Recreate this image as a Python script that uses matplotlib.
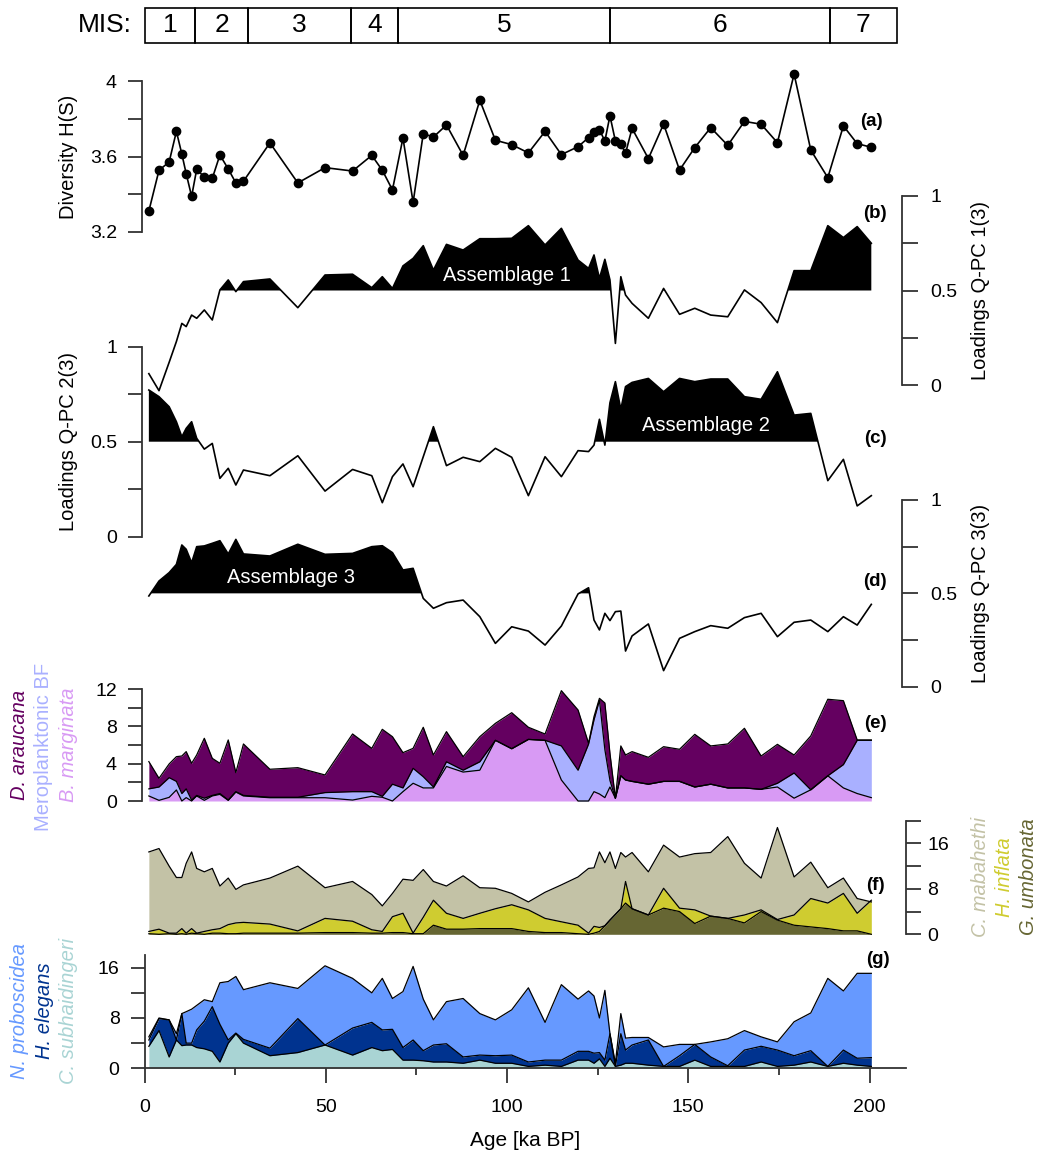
import numpy as np
import matplotlib
matplotlib.use("Agg")
import matplotlib.pyplot as plt
from matplotlib.patches import Rectangle

plt.rcParams['font.family'] = ['Liberation Sans', 'DejaVu Sans']

# ---- data (ka BP) ----
age = [1.2, 4.0, 6.8, 8.8, 10.3, 11.5, 13.0, 14.4, 16.5, 18.7, 20.8, 23.1, 25.2, 27.3, 34.6,
       42.3, 49.8, 57.4, 62.7, 65.6, 68.4, 71.3, 74.1, 76.9, 79.7, 83.3, 87.9, 92.5, 96.8, 101.3,
       105.9, 110.5, 115.0, 119.6, 122.5, 124.0, 125.5, 127.0, 128.4, 129.9, 131.4, 132.7, 134.5,
       139.0, 143.2, 147.6, 151.8, 156.2, 160.9, 165.5, 170.1, 174.6, 179.2, 183.8, 188.5, 192.8,
       196.6, 200.5]

diversity = [3.311, 3.527, 3.571, 3.733, 3.613, 3.509, 3.389, 3.532, 3.491, 3.484, 3.608, 3.534,
             3.460, 3.469, 3.672, 3.460, 3.541, 3.523, 3.606, 3.527, 3.423, 3.698, 3.357, 3.721,
             3.703, 3.767, 3.606, 3.898, 3.686, 3.663, 3.619, 3.733, 3.610, 3.652, 3.700, 3.730,
             3.742, 3.682, 3.816, 3.682, 3.668, 3.617, 3.749, 3.589, 3.772, 3.528, 3.647, 3.753,
             3.659, 3.786, 3.771, 3.673, 4.037, 3.634, 3.488, 3.762, 3.668, 3.649]

qpc1 = [0.06, -0.03, 0.12, 0.23, 0.326, 0.309, 0.37, 0.353, 0.397, 0.344, 0.503, 0.556, 0.494,
        0.547, 0.561, 0.409, 0.582, 0.586, 0.515, 0.573, 0.511, 0.63, 0.67, 0.737, 0.608, 0.744,
        0.714, 0.774, 0.774, 0.776, 0.843, 0.741, 0.829, 0.661, 0.617, 0.688, 0.564, 0.665, 0.556,
        0.22, 0.573, 0.476, 0.432, 0.353, 0.511, 0.374, 0.406, 0.37, 0.361, 0.503, 0.436, 0.33,
        0.605, 0.605, 0.843, 0.78, 0.838, 0.75]

qpc2 = [0.772, 0.737, 0.684, 0.605, 0.526, 0.57, 0.605, 0.518, 0.461, 0.491, 0.307, 0.36, 0.272,
        0.351, 0.321, 0.426, 0.24, 0.354, 0.321, 0.179, 0.316, 0.383, 0.263, 0.421, 0.579, 0.374,
        0.418, 0.395, 0.465, 0.418, 0.216, 0.421, 0.316, 0.453, 0.448, 0.482, 0.618, 0.482, 0.705,
        0.816, 0.67, 0.79, 0.812, 0.833, 0.763, 0.833, 0.816, 0.83, 0.83, 0.737, 0.723, 0.868,
        0.64, 0.649, 0.295, 0.407, 0.162, 0.216]

qpc3 = [0.486, 0.566, 0.611, 0.655, 0.759, 0.736, 0.664, 0.75, 0.754, 0.768, 0.782, 0.711, 0.789,
        0.711, 0.70, 0.763, 0.709, 0.714, 0.75, 0.755, 0.718, 0.625, 0.634, 0.473, 0.42, 0.45,
        0.464, 0.375, 0.232, 0.321, 0.298, 0.223, 0.325, 0.497, 0.53, 0.357, 0.304, 0.393, 0.354,
        0.402, 0.405, 0.191, 0.272, 0.336, 0.086, 0.259, 0.295, 0.327, 0.313, 0.37, 0.393, 0.268,
        0.345, 0.357, 0.295, 0.375, 0.33, 0.441]

# stacked percentages, read as the top of each band
marginata_top = [0.54, 0.07, 0.39, 1.18, 0.0, 0.36, 0.0, 0.54, 0.07, 0.54, 0.71, 0.07, 0.96, 0.54,
                 0.35, 0.35, 0.35, 0.1, 0.5, 0.4, 0.0, 1.0, 1.9, 1.4, 1.4, 3.7, 3.1, 3.3, 6.5, 5.6,
                 6.6, 6.5, 2.25, 0.0, 0.0, 1.0, 0.75, 0.36, 1.5, 0.3, 2.7, 2.25, 2.1, 1.8, 2.1, 2.1,
                 1.5, 1.8, 1.4, 1.4, 1.25, 1.5, 0.3, 1.2, 2.7, 1.4, 0.8, 0.36]
mero_top = [1.3, 1.5, 2.5, 2.1, 0.8, 1.3, 0.1, 0.6, 0.3, 0.6, 0.8, 0.1, 1.0, 0.6, 0.4, 0.4, 0.9,
            1.0, 1.0, 0.5, 1.8, 1.4, 3.5, 2.6, 1.5, 4.2, 3.3, 4.2, 6.5, 5.6, 6.6, 6.5, 5.9, 3.3,
            6.1, 8.7, 10.8, 5.5, 2.2, 0.3, 2.7, 2.25, 2.1, 1.8, 2.1, 2.1, 1.5, 1.8, 1.4, 1.4, 1.25,
            1.9, 3.0, 1.2, 2.7, 3.9, 6.5, 6.5]
araucana_top = [4.22, 2.43, 3.97, 4.75, 4.82, 5.29, 4.04, 4.93, 6.72, 4.57, 4.04, 6.54, 3.04, 6.11,
                3.40, 3.57, 2.79, 7.18, 5.64, 7.68, 6.89, 5.18, 5.64, 7.90, 4.93, 7.43, 4.75, 6.89,
                8.32, 9.46, 7.90, 7.18, 11.82, 9.75, 6.18, 9.04, 11.0, 10.5, 5.1, 0.29, 5.9, 4.93,
                5.29, 4.68, 5.82, 5.54, 7.14, 5.9, 6.11, 7.79, 4.82, 6.07, 4.93, 6.97, 10.9, 10.75,
                6.54, 6.54]

umbonata_top = [0.1, 0.0, 0.1, 0.0, 0.1, 0.0, 0.2, 0.1, 0.0, 0.2, 0.2, 0.1, 0.1, 0.2, 0.2, 0.2,
                0.3, 0.3, 0.2, 0.2, 0.3, 0.3, 0.1, 0.1, 1.6, 0.9, 0.9, 1.0, 1.0, 1.0, 0.5, 0.3,
                0.3, 0.1, 0.0, 0.2, 0.5, 1.5, 2.5, 3.5, 4.5, 5.5, 4.5, 3.4, 4.6, 4.0, 1.9, 3.2,
                2.8, 2.0, 4.0, 2.5, 1.6, 1.3, 1.0, 0.6, 0.6, 0.0]
inflata_top = [0.5, 0.9, 0.2, 0.2, 1.0, 0.2, 1.0, 0.2, 0.5, 0.8, 1.0, 1.7, 2.0, 2.1, 1.8, 0.6,
               2.8, 2.3, 0.8, 0.5, 3.1, 3.7, 0.2, 3.0, 6.0, 3.7, 2.8, 3.7, 4.5, 5.2, 4.3, 2.8,
               2.2, 1.6, 0.2, 1.4, 1.2, 1.5, 2.5, 3.5, 4.5, 9.3, 4.5, 3.4, 8.1, 4.6, 4.3, 3.2,
               2.8, 3.4, 4.3, 2.6, 3.4, 6.3, 5.5, 7.2, 3.7, 6.0]
mabahethi_top = [14.5, 15.1, 12.0, 10.0, 10.0, 12.5, 14.5, 11.6, 11.0, 11.6, 8.5, 9.9, 7.9, 8.7,
                 9.9, 12.0, 8.2, 9.3, 7.0, 5.0, 7.2, 9.7, 9.5, 11.4, 9.3, 8.5, 10.3, 8.2, 8.1,
                 7.2, 5.7, 7.4, 8.7, 10.1, 11.6, 11.7, 14.5, 12.6, 14.5, 11.6, 14.4, 13.6, 14.4,
                 11.0, 15.7, 13.6, 14.2, 14.4, 17.2, 12.5, 9.9, 18.8, 10.1, 12.7, 8.2, 9.9, 6.3, 5.7]

subhaidingeri_top = [3.5, 6.0, 1.8, 4.5, 3.6, 3.7, 3.7, 3.3, 3.1, 2.7, 1.0, 4.0, 5.5, 4.0, 2.0,
                     2.5, 3.7, 2.1, 3.3, 2.8, 3.0, 1.3, 1.3, 1.2, 1.0, 1.0, 0.8, 1.3, 0.8, 0.8,
                     0.3, 0.5, 0.3, 1.3, 1.3, 0.8, 1.5, 0.3, 1.6, 0.3, 0.5, 0.8, 0.8, 0.5, 0.3,
                     0.3, 1.3, 0.3, 0.3, 0.3, 1.0, 0.3, 0.5, 1.0, 0.3, 0.8, 0.5, 0.3]
elegans_top = [4.5, 7.9, 7.7, 4.5, 8.7, 4.0, 4.0, 6.1, 7.5, 9.8, 7.0, 4.5, 5.6, 4.6, 3.2, 7.9,
               3.7, 6.4, 7.3, 6.1, 6.2, 3.3, 4.5, 2.8, 3.7, 3.9, 1.8, 2.1, 2.0, 2.1, 1.0, 1.3,
               1.3, 2.7, 2.7, 2.4, 2.5, 1.3, 5.5, 0.3, 5.5, 2.9, 3.7, 4.5, 0.3, 2.0, 3.8, 1.8,
               0.4, 2.9, 3.5, 2.9, 2.0, 2.8, 0.3, 2.9, 1.6, 1.7]
proboscidea_top = [5.0, 8.0, 7.7, 5.5, 8.7, 9.0, 9.4, 10.0, 10.9, 10.6, 13.6, 13.8, 14.6, 12.5,
                   13.6, 12.7, 16.3, 14.3, 12.0, 14.3, 11.1, 12.2, 16.2, 11.0, 7.7, 10.6, 11.1,
                   8.7, 7.7, 9.3, 12.8, 7.3, 13.3, 11.0, 12.3, 11.5, 8.0, 12.4, 5.5, 0.8, 8.7,
                   4.8, 4.9, 4.9, 3.4, 3.8, 3.8, 4.2, 4.7, 6.0, 5.0, 4.2, 7.4, 8.8, 14.3, 12.3,
                   15.1, 15.1]

mis_edges = [0, 14, 28.5, 57, 70, 128.5, 189, 207.5]
mis_labels = ['1', '2', '3', '4', '5', '6', '7']

# ---- layout helpers (pixel based, 1039 x 1159) ----
W, H = 1039, 1159
X0, KX = 144.5, 3.625          # pixel of age 0, pixels per ka
XMAX = 210
AX_COL = '#333333'

fig = plt.figure(figsize=(W / 100, H / 100), dpi=100)


def add_panel(lo, hi, px_lo, px_hi):
    ax = fig.add_axes([X0 / W, 1 - px_lo / H, XMAX * KX / W, (px_lo - px_hi) / H])
    ax.set_xlim(0, XMAX)
    ax.set_ylim(lo, hi)
    ax.patch.set_visible(False)
    for s in ax.spines.values():
        s.set_visible(False)
    ax.tick_params(bottom=False, labelbottom=False, left=False, labelleft=False)
    return ax


def y_axis(ax, side, ticks, labels, bounds, xpos, length=10, pad=8):
    sp = ax.spines[side]
    sp.set_visible(True)
    sp.set_bounds(*bounds)
    sp.set_position(('data', xpos))
    sp.set_color(AX_COL)
    sp.set_linewidth(1.3)
    if side == 'left':
        ax.yaxis.set_ticks_position('left')
        ax.tick_params(axis='y', left=True, labelleft=True)
    else:
        ax.yaxis.set_ticks_position('right')
        ax.tick_params(axis='y', right=True, labelright=True)
    ax.set_yticks(ticks)
    ax.set_yticklabels(labels)
    ax.tick_params(axis='y', direction='out', length=length, width=1.3, color=AX_COL,
                   labelsize=14, pad=pad)


def fig_text(xp, yp, s, **kw):
    fig.text(xp / W, 1 - yp / H, s, ha='center', va='center', **kw)


# ---- MIS bar ----
axm = fig.add_axes([X0 / W, 1 - 43 / H, XMAX * KX / W, 35 / H])
axm.set_xlim(0, XMAX)
axm.set_ylim(0, 1)
axm.axis('off')
for i, lab in enumerate(mis_labels):
    x0, x1 = mis_edges[i], mis_edges[i + 1]
    axm.add_patch(Rectangle((x0, 0), x1 - x0, 1, fill=False, lw=1.2, ec='black', clip_on=False))
    axm.text((x0 + x1) / 2, 0.5, lab, ha='center', va='center', fontsize=19)
axm.text(-3.5, 0.5, 'MIS:', ha='right', va='center', fontsize=19)

# ---- (a) diversity ----
ax_a = add_panel(3.2, 4.0, 232, 81)
ax_a.plot(age, diversity, color='black', lw=1.2, marker='o', ms=6, clip_on=False)
y_axis(ax_a, 'left', [3.2, 3.4, 3.6, 3.8, 4.0], ['3.2', '', '3.6', '', '4'], (3.2, 4.0), -0.7)

# ---- (b)-(d) Q-mode PCA loadings ----
load_ticks = [0, 0.25, 0.5, 0.75, 1]
load_labels = ['0', '', '0.5', '', '1']


def loading_panel(ax, vals):
    v = np.array(vals)
    ax.fill_between(age, 0.5, v, where=v > 0.5, interpolate=True, color='black', lw=0,
                    clip_on=False)
    ax.plot(age, v, color='black', lw=1.2, clip_on=False)


ax_b = add_panel(0, 1, 385, 196)
loading_panel(ax_b, qpc1)
y_axis(ax_b, 'right', load_ticks, load_labels, (0, 1), 209.1, length=11.5, pad=8.5)
ax_b.text(100, 0.578, 'Assemblage 1', color='white', ha='center', va='center', fontsize=14.5)

ax_c = add_panel(0, 1, 536.7, 346.7)
loading_panel(ax_c, qpc2)
y_axis(ax_c, 'left', load_ticks, load_labels, (0, 1), -0.7)
ax_c.text(155, 0.583, 'Assemblage 2', color='white', ha='center', va='center', fontsize=14.5)

ax_d = add_panel(0, 1, 686.7, 500)
loading_panel(ax_d, qpc3)
y_axis(ax_d, 'right', load_ticks, load_labels, (0, 1), 209.1, length=11.5, pad=8.5)
ax_d.text(40.5, 0.586, 'Assemblage 3', color='white', ha='center', va='center', fontsize=14.5)


# ---- stacked species panels ----
def stack_panel(ax, tops, colors):
    lower = np.zeros(len(age))
    for top, col in zip(tops, colors):
        t = np.array(top)
        ax.fill_between(age, lower, t, color=col, lw=0, clip_on=False)
        lower = t
    for top in tops:
        ax.plot(age, top, color='black', lw=0.9, clip_on=False)


col_marg, col_mero, col_arau = '#d89af4', '#a9b0ff', '#640060'
col_umb, col_infl, col_mab = '#666633', '#cfcc30', '#c3c2a6'
col_sub, col_eleg, col_prob = '#a9d4d4', '#00338f', '#6699ff'

ax_e = add_panel(0, 12, 801, 689)
stack_panel(ax_e, [marginata_top, mero_top, araucana_top], [col_marg, col_mero, col_arau])
y_axis(ax_e, 'left', [0, 2, 4, 6, 8, 10, 12], ['0', '', '4', '', '8', '', '12'], (0, 12), -0.7)

ax_f = add_panel(0, 20, 934.3, 820.7)
stack_panel(ax_f, [umbonata_top, inflata_top, mabahethi_top], [col_umb, col_infl, col_mab])
y_axis(ax_f, 'right', [0, 4, 8, 12, 16, 20], ['0', '', '8', '', '16', ''], (0, 20), 210,
       length=10.5, pad=5)

ax_g = add_panel(0, 18, 1068.3, 955.1)
stack_panel(ax_g, [subhaidingeri_top, elegans_top, proboscidea_top], [col_sub, col_eleg, col_prob])
y_axis(ax_g, 'left', [0, 4, 8, 12, 16], ['0', '', '8', '', '16'], (0, 18), 0)
ax_g.spines['bottom'].set_visible(True)
ax_g.spines['bottom'].set_bounds(0, XMAX)
ax_g.spines['bottom'].set_color(AX_COL)
ax_g.spines['bottom'].set_linewidth(1.3)
ax_g.set_xticks([0, 50, 100, 150, 200])
ax_g.set_xticks([25, 75, 125, 175], minor=True)
ax_g.tick_params(axis='x', which='major', bottom=True, labelbottom=True, direction='out',
                 length=11, width=1.3, color=AX_COL, labelsize=14, pad=11)
ax_g.tick_params(axis='x', which='minor', bottom=True, direction='out', length=5, width=1.3,
                 color=AX_COL)
fig_text(525, 1140, 'Age [ka BP]', fontsize=15)

# ---- axis titles ----
fig_text(69, 157, 'Diversity H(S)', rotation=90, fontsize=14.5)
fig_text(981, 290, 'Loadings Q-PC 1(3)', rotation=90, fontsize=14.5)
fig_text(69, 442, 'Loadings Q-PC 2(3)', rotation=90, fontsize=14.5)
fig_text(981, 593, 'Loadings Q-PC 3(3)', rotation=90, fontsize=14.5)

fig_text(20, 745, 'D. araucana', rotation=90, fontsize=14.5, color=col_arau, style='italic')
fig_text(44, 747, 'Meroplanktonic BF', rotation=90, fontsize=14.5, color=col_mero)
fig_text(69, 745, 'B. marginata', rotation=90, fontsize=14.5, color=col_marg, style='italic')

fig_text(981, 877, 'C. mabahethi', rotation=90, fontsize=14.5, color=col_mab, style='italic')
fig_text(1005, 877, 'H. inflata', rotation=90, fontsize=14.5, color=col_infl, style='italic')
fig_text(1029, 877, 'G. umbonata', rotation=90, fontsize=14.5, color=col_umb, style='italic')

fig_text(20, 1011, 'N. proboscidea', rotation=90, fontsize=14.5, color=col_prob, style='italic')
fig_text(44, 1011, 'H. elegans', rotation=90, fontsize=14.5, color=col_eleg, style='italic')
fig_text(68, 1011, 'C. subhaidingeri', rotation=90, fontsize=14.5, color=col_sub, style='italic')

# ---- panel letters ----
for lab, xp, yp in [('(a)', 871, 121), ('(b)', 875, 213), ('(c)', 875, 439), ('(d)', 875, 581),
                    ('(e)', 875, 723), ('(f)', 875, 885), ('(g)', 878, 960)]:
    fig_text(xp, yp, lab, fontsize=13.5, fontweight='bold')

fig.savefig('out.png', dpi=100)
